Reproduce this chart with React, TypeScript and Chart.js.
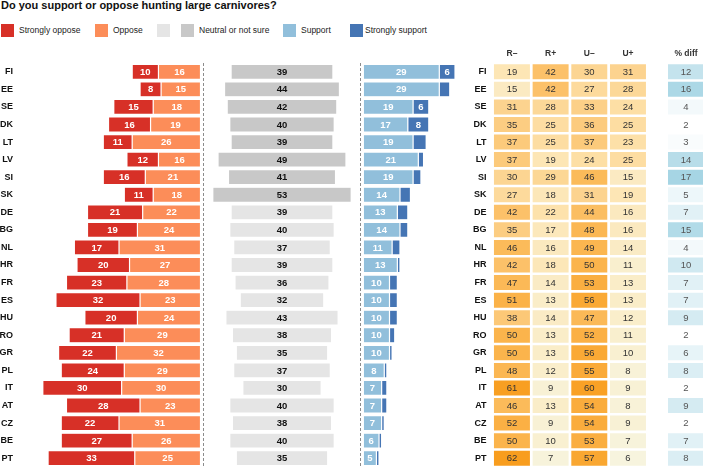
import React, { useEffect, useRef } from 'react';
import { Chart, registerables } from 'chart.js';
Chart.register(...registerables);

// ---------- data ----------
const countries = ['FI', 'EE', 'SE', 'DK', 'LT', 'LV', 'SI', 'SK', 'DE', 'BG', 'NL', 'HR', 'FR', 'ES', 'HU', 'RO', 'GR', 'PL', 'IT', 'AT', 'CZ', 'BE', 'PT'];
const stronglyOppose = [10, 8, 15, 16, 11, 12, 16, 11, 21, 19, 17, 20, 23, 32, 20, 21, 22, 24, 30, 28, 22, 27, 33];
const oppose = [16, 15, 18, 19, 26, 16, 21, 18, 22, 24, 31, 27, 28, 23, 24, 29, 32, 29, 30, 23, 31, 26, 25];
const neutral = [39, 44, 42, 40, 39, 49, 41, 53, 39, 40, 37, 39, 36, 32, 43, 38, 35, 37, 30, 40, 38, 40, 35];
const support = [29, 29, 19, 17, 19, 21, 19, 14, 13, 14, 11, 13, 10, 10, 10, 10, 10, 8, 7, 7, 7, 6, 5];
const stronglySupport = [6, 4, 6, 8, 5, 2, 3, 4, 4, 3, 3, 1, 3, 3, 3, 2, 1, 1, 2, 2, 1, 1, 1];

const rMinus = [19, 15, 31, 35, 37, 37, 30, 27, 42, 35, 46, 42, 47, 51, 38, 50, 50, 48, 61, 46, 52, 50, 62];
const rPlus = [42, 42, 28, 25, 25, 19, 29, 18, 22, 17, 16, 18, 14, 13, 14, 13, 13, 12, 9, 13, 9, 10, 7];
const uMinus = [30, 27, 33, 36, 37, 24, 46, 31, 44, 48, 49, 50, 53, 56, 47, 52, 56, 55, 60, 54, 54, 53, 57];
const uPlus = [31, 28, 24, 25, 23, 25, 15, 19, 16, 16, 14, 11, 13, 13, 12, 11, 10, 8, 9, 8, 9, 7, 6];
const pctDiff = [12, 16, 4, 2, 3, 14, 17, 5, 7, 15, 4, 10, 7, 7, 9, 2, 6, 8, 2, 9, 2, 7, 8];

const heatHeaders = ['R–', 'R+', 'U–', 'U+', '% diff'];
const heatColumns = [rMinus, rPlus, uMinus, uPlus];
const heatColumnIndex = [0, 1, 2, 3];
const diffColumnIndex = 4.5;

const legendLabels = ['Strongly oppose', 'Oppose', 'Neutral or not sure', 'Support', 'Strongly support'];
const titleText = 'Do you support or oppose hunting large carnivores?';

// ---------- styles ----------
const FONT = '"Liberation Sans", Arial, Helvetica, sans-serif';
const RED = '#d73027';
const ORANGE = '#fc8d59';
const GREY_LIGHT = '#e5e5e5';
const GREY_DARK = '#c8c8c8';
const BLUE_LIGHT = '#91bfdb';
const BLUE_DARK = '#4575b4';
const BAR_FONT = `bold 9.5px ${FONT}`;
const CELL_FONT = `9.5px ${FONT}`;

Chart.defaults.font.family = FONT;

type Stop = [number, number[]];
const heatStops: Stop[] = [
  [6, [247, 244, 222]],
  [20, [253, 229, 178]],
  [35, [252, 205, 130]],
  [50, [251, 180, 76]],
  [62, [248, 157, 30]],
];
const diffStops: Stop[] = [
  [2, [255, 255, 255]],
  [17, [166, 213, 228]],
];
function interp(stops: Stop[], v: number) {
  if (v <= stops[0][0]) return `rgb(${stops[0][1].join(',')})`;
  for (let i = 1; i < stops.length; i++) {
    if (v <= stops[i][0]) {
      const [a, ca] = stops[i - 1];
      const [b, cb] = stops[i];
      const t = (v - a) / (b - a);
      const c = ca.map((x, k) => Math.round(x + (cb[k] - x) * t));
      return `rgb(${c.join(',')})`;
    }
  }
  return `rgb(${stops[stops.length - 1][1].join(',')})`;
}

// ---------- plugins ----------
const barLabelPlugin = {
  id: 'barLabels',
  afterDatasetsDraw(chart: any) {
    const ctx = chart.ctx;
    chart.data.datasets.forEach((ds: any, di: number) => {
      const lab = ds.labelOpts;
      if (!lab) return;
      const meta = chart.getDatasetMeta(di);
      meta.data.forEach((el: any, i: number) => {
        const v = lab.values[i];
        if (v == null || v < (lab.min ?? 0)) return;
        const { x, y, base } = el.getProps(['x', 'y', 'base'], true);
        ctx.save();
        ctx.font = lab.font;
        ctx.fillStyle = lab.color;
        ctx.textAlign = 'center';
        ctx.textBaseline = 'middle';
        ctx.fillText(String(v), (x + base) / 2, y + 0.5);
        ctx.restore();
      });
    });
  },
};

const dashLinePlugin = {
  id: 'dashLine',
  afterDraw(chart: any, _args: any, opts: any) {
    if (!opts || !opts.side) return;
    const a = chart.chartArea;
    const xRaw = opts.side === 'right' ? a.right + opts.gap : a.left - opts.gap;
    const x = Math.floor(xRaw) + 0.5;
    const ctx = chart.ctx;
    ctx.save();
    ctx.strokeStyle = '#8c8c8c';
    ctx.lineWidth = 1;
    ctx.setLineDash([3, 2]);
    ctx.beginPath();
    ctx.moveTo(x, 0);
    ctx.lineTo(x, chart.height);
    ctx.stroke();
    ctx.restore();
  },
};

const countryTicks = {
  font: { family: FONT, size: 9, weight: 'bold' as const },
  color: '#111',
  autoSkip: false,
};

const barDefaults = {
  barPercentage: 0.854,
  categoryPercentage: 1,
  borderColor: 'rgba(255,255,255,0.9)',
  borderWidth: 0.6,
  borderSkipped: false,
};

const commonPlugins = { legend: { display: false }, tooltip: { enabled: false }, title: { display: false } };

// ---------- configs ----------
const opposeConfig = () => ({
  type: 'bar',
  data: {
    labels: countries,
    datasets: [
      { label: 'Oppose', data: oppose.map((v) => -v), backgroundColor: ORANGE, labelOpts: { values: oppose, color: '#fff', font: BAR_FONT } },
      { label: 'Strongly oppose', data: stronglyOppose.map((v) => -v), backgroundColor: RED, labelOpts: { values: stronglyOppose, color: '#fff', font: BAR_FONT } },
    ],
  },
  options: {
    indexAxis: 'y',
    responsive: false,
    animation: false,
    layout: { padding: { left: 0, right: 3.5, top: 0, bottom: 0 } },
    datasets: { bar: barDefaults },
    scales: {
      x: { stacked: true, display: false, min: -70.2, max: 0 },
      y: {
        stacked: true,
        grid: { display: false, drawTicks: false },
        border: { display: false },
        ticks: { ...countryTicks, padding: 3 },
        afterFit: (s: any) => { s.width = 16; s.paddingTop = 0; s.paddingBottom = 0; },
      },
    },
    plugins: { ...commonPlugins, dashLine: { side: 'right', gap: 2.5 } },
  },
  plugins: [barLabelPlugin, dashLinePlugin],
});

const neutralColors = neutral.map((v, i) =>
  v > oppose[i] + stronglyOppose[i] && v > support[i] + stronglySupport[i] ? GREY_DARK : GREY_LIGHT
);

const neutralConfig = () => ({
  type: 'bar',
  data: {
    labels: countries,
    datasets: [
      { label: 'Neutral or not sure', data: neutral.map((v) => [-v / 2, v / 2]), backgroundColor: neutralColors, labelOpts: { values: neutral, color: '#111', font: BAR_FONT } },
    ],
  },
  options: {
    indexAxis: 'y',
    responsive: false,
    animation: false,
    layout: { padding: 0 },
    datasets: { bar: barDefaults },
    scales: {
      x: { display: false, min: -29.1, max: 29.1 },
      y: { display: false },
    },
    plugins: commonPlugins,
  },
  plugins: [barLabelPlugin],
});

const supportConfig = () => ({
  type: 'bar',
  data: {
    labels: countries,
    datasets: [
      { label: 'Support', data: support, backgroundColor: BLUE_LIGHT, labelOpts: { values: support, color: '#fff', font: BAR_FONT } },
      { label: 'Strongly support', data: stronglySupport, backgroundColor: BLUE_DARK, labelOpts: { values: stronglySupport, min: 6, color: '#fff', font: BAR_FONT } },
    ],
  },
  options: {
    indexAxis: 'y',
    responsive: false,
    animation: false,
    layout: { padding: { left: 5.3, right: 0, top: 0, bottom: 0 } },
    datasets: { bar: barDefaults },
    scales: {
      x: { stacked: true, display: false, min: 0, max: 36.9 },
      y: { stacked: true, display: false },
    },
    plugins: { ...commonPlugins, dashLine: { side: 'left', gap: 2.8 } },
  },
  plugins: [barLabelPlugin, dashLinePlugin],
});

const headerPositions = [...heatColumnIndex.map((k) => k + 0.5), diffColumnIndex + 0.5];

const heatConfig = () => ({
  type: 'bar',
  data: {
    labels: countries,
    datasets: [
      ...heatColumns.map((vals, k) => ({
        label: heatHeaders[k],
        data: vals.map(() => [heatColumnIndex[k] + 0.035, heatColumnIndex[k] + 0.965]),
        backgroundColor: vals.map((v) => interp(heatStops, v)),
        grouped: false,
        labelOpts: { values: vals, color: '#333', font: CELL_FONT },
      })),
      {
        label: heatHeaders[4],
        data: pctDiff.map(() => [diffColumnIndex + 0.035, diffColumnIndex + 0.965]),
        backgroundColor: pctDiff.map((v) => interp(diffStops, v)),
        grouped: false,
        labelOpts: { values: pctDiff, color: '#555', font: CELL_FONT },
      },
    ],
  },
  options: {
    indexAxis: 'y',
    responsive: false,
    animation: false,
    layout: { padding: 0 },
    datasets: { bar: { barPercentage: 0.854, categoryPercentage: 1, borderWidth: 0 } },
    scales: {
      x: {
        type: 'linear',
        position: 'top',
        min: 0,
        max: 5.44,
        grid: { display: false, drawTicks: false },
        border: { display: false },
        ticks: {
          autoSkip: false,
          maxRotation: 0,
          padding: 4,
          font: { family: FONT, size: 8.5, weight: 'bold' as const },
          color: '#333',
          callback: (_v: any, i: number) => heatHeaders[i],
        },
        afterBuildTicks: (s: any) => { s.ticks = headerPositions.map((value) => ({ value })); },
        afterFit: (s: any) => { s.height = 18; s.paddingLeft = 0; s.paddingRight = 0; },
      },
      y: {
        grid: { display: false, drawTicks: false },
        border: { display: false },
        ticks: { ...countryTicks, padding: 6 },
        afterFit: (s: any) => { s.width = 30.6; s.paddingTop = 0; s.paddingBottom = 0; },
      },
    },
    plugins: commonPlugins,
  },
  plugins: [barLabelPlugin],
});

// ---------- components ----------
function ChartBox({ left, top, width, height, config }: { left: number; top: number; width: number; height: number; config: () => any }) {
  const ref = useRef<HTMLCanvasElement | null>(null);
  useEffect(() => {
    const c = new Chart(ref.current as HTMLCanvasElement, config());
    return () => c.destroy();
  }, []);
  return (
    <canvas
      ref={ref}
      width={width}
      height={height}
      style={{ position: 'absolute', left, top, width, height, display: 'block' }}
    />
  );
}

function Swatch({ left, color }: { left: number; color: string }) {
  return <div style={{ position: 'absolute', left, top: 23.5, width: 13, height: 13, background: color }} />;
}
function LegendText({ left, text }: { left: number; text: string }) {
  return (
    <div style={{ position: 'absolute', left, top: 23.5, height: 13, lineHeight: '13px', fontSize: 8.5, color: '#222', whiteSpace: 'nowrap' }}>
      {text}
    </div>
  );
}

export default function App() {
  return (
    <div
      style={{
        position: 'absolute',
        left: 0,
        top: 0,
        width: 703,
        height: 469,
        overflow: 'hidden',
        background: '#fff',
        fontFamily: FONT,
      }}
    >
      <div style={{ position: 'absolute', left: 1, top: -1, fontSize: 11, lineHeight: '13px', fontWeight: 'bold', color: '#111', whiteSpace: 'nowrap' }}>
        {titleText}
      </div>
      <Swatch left={1} color={RED} />
      <LegendText left={19} text={legendLabels[0]} />
      <Swatch left={95} color={ORANGE} />
      <LegendText left={113} text={legendLabels[1]} />
      <Swatch left={157} color={GREY_LIGHT} />
      <Swatch left={181} color={GREY_DARK} />
      <LegendText left={199} text={legendLabels[2]} />
      <Swatch left={283} color={BLUE_LIGHT} />
      <LegendText left={301} text={legendLabels[3]} />
      <Swatch left={349.5} color={BLUE_DARK} />
      <LegendText left={365} text={legendLabels[4]} />

      <ChartBox left={0} top={63} width={204} height={404} config={opposeConfig} />
      <ChartBox left={206} top={63} width={152} height={404} config={neutralConfig} />
      <ChartBox left={358} top={63} width={102} height={404} config={supportConfig} />
      <ChartBox left={462} top={45} width={241} height={422} config={heatConfig} />
    </div>
  );
}
